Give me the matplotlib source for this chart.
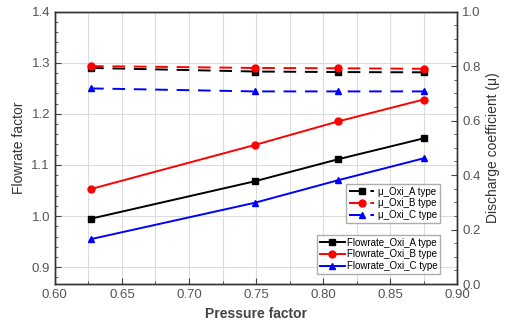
import matplotlib
matplotlib.use("Agg")
import matplotlib.pyplot as plt
from matplotlib.ticker import MultipleLocator

plt.rcParams['font.family'] = ['Liberation Sans', 'DejaVu Sans']

# pressure factor
pressure = [0.627, 0.749, 0.811, 0.875]

# flowrate factor (left axis)
flow_A = [0.995, 1.068, 1.111, 1.152]
flow_B = [1.053, 1.139, 1.185, 1.228]
flow_C = [0.955, 1.026, 1.070, 1.113]

# discharge coefficient mu (right axis)
mu_A = [0.793, 0.780, 0.778, 0.777]
mu_B = [0.800, 0.793, 0.792, 0.790]
mu_C = [0.718, 0.707, 0.707, 0.707]

labels_mu = ["\u03bc_Oxi_A type", "\u03bc_Oxi_B type", "\u03bc_Oxi_C type"]
labels_flow = ["Flowrate_Oxi_A type", "Flowrate_Oxi_B type", "Flowrate_Oxi_C type"]

colors = ["black", "red", "blue"]
markers = ["s", "o", "^"]

fig = plt.figure(figsize=(5.08, 3.21), dpi=100)
ax = fig.add_axes([0.108, 0.115, 0.792, 0.849])
ax2 = ax.twinx()

hf = []
for y, c, m, lab in zip([flow_A, flow_B, flow_C], colors, markers, labels_flow):
    h, = ax.plot(pressure, y, color=c, marker=m, markersize=5, lw=1.4, label=lab)
    hf.append(h)

hm = []
for y, c, m, lab in zip([mu_A, mu_B, mu_C], colors, markers, labels_mu):
    h, = ax2.plot(pressure, y, color=c, marker=m, markersize=5, lw=1.4,
                  ls=(0, (6.5, 4.5)), label=lab)
    hm.append(h)

ax.set_xlim(0.60, 0.90)
ax.set_ylim(0.867, 1.4)
ax2.set_ylim(0.0, 1.0)

ax.xaxis.set_major_locator(MultipleLocator(0.05))
ax.xaxis.set_minor_locator(MultipleLocator(0.025))
ax.yaxis.set_major_locator(MultipleLocator(0.1))
ax.yaxis.set_minor_locator(MultipleLocator(0.02))
ax2.yaxis.set_major_locator(MultipleLocator(0.2))
ax2.yaxis.set_minor_locator(MultipleLocator(0.05))

ax.xaxis.set_major_formatter(matplotlib.ticker.FormatStrFormatter('%.2f'))
ax.yaxis.set_major_formatter(matplotlib.ticker.FormatStrFormatter('%.1f'))
ax2.yaxis.set_major_formatter(matplotlib.ticker.FormatStrFormatter('%.1f'))

ax.grid(True, which='both', axis='x', color='#dcdcdc', lw=0.8)
ax.grid(True, which='major', axis='y', color='#dcdcdc', lw=0.8)
ax.set_axisbelow(True)

for a in (ax, ax2):
    a.tick_params(which='both', direction='in', labelsize=9.5, colors='#444444',
                  labelcolor='#555555')
    a.tick_params(which='major', length=4)
    a.tick_params(which='minor', length=2)
    for s in a.spines.values():
        s.set_color('#333333')
        s.set_linewidth(1.0)

ax.set_xlabel("Pressure factor", fontsize=10, fontweight='bold', color='#444444')
ax.set_ylabel("Flowrate factor", fontsize=10, color='#333333')
ax2.set_ylabel("Discharge coefficient (\u03bc)", fontsize=10, color='#333333')

leg1 = ax2.legend(handles=hm, loc='lower right', bbox_to_anchor=(0.97, 0.205),
                  fontsize=7, frameon=True, fancybox=False, edgecolor='#999999',
                  handlelength=2.6, borderpad=0.3, labelspacing=0.2, handletextpad=0.4)
ax2.add_artist(leg1)
leg2 = ax2.legend(handles=hf, loc='lower right', bbox_to_anchor=(0.97, 0.018),
                  fontsize=7, frameon=True, fancybox=False, edgecolor='#999999',
                  handlelength=2.6, borderpad=0.3, labelspacing=0.2, handletextpad=0.2)

fig.savefig("out.png", dpi=100)
